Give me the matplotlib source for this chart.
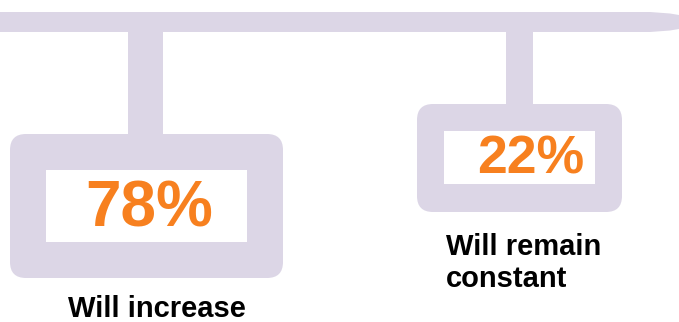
import matplotlib
matplotlib.use("Agg")
import matplotlib.pyplot as plt
from matplotlib.patches import FancyBboxPatch, Rectangle, Polygon

# Survey outcome shares
categories = ["Will increase", "Will remain\nconstant"]
shares = [78, 22]

LAVENDER = "#dcd6e6"
ORANGE = "#f7801f"

# layout in pixel units (x right, y down)
# (box_x, box_y, box_w, box_h, stem_x0, stem_x1, inner_x, inner_y, inner_w, inner_h, font_size)
BOXES = [
    (10, 134, 273, 144, 128, 163, 46, 170, 201, 72, 46),
    (417, 104, 205, 108, 506, 533, 444, 131, 151, 53, 38.5),
]
# label anchors: (x, y, ha)
LABELS = [(157, 309, "center"), (446, 263, "left")]
# where each share's number sits inside its white window
NUM_POS = [(149, 209), (531, 159)]

fig = plt.figure(figsize=(6.79, 3.22), dpi=100)
ax = fig.add_axes([0, 0, 1, 1])
ax.set_xlim(0, 679)
ax.set_ylim(322, 0)
ax.set_axis_off()

# top rail with a tapered right end
rail = Polygon(
    [(0, 12), (650, 12), (670, 13.5), (679, 15), (679, 29), (670, 30.5),
     (650, 32), (0, 32)],
    closed=True, facecolor=LAVENDER, edgecolor="none",
)
ax.add_patch(rail)

for i, (bx, by, bw, bh, sx0, sx1, ix, iy, iw, ih, fs) in enumerate(BOXES):
    # stem from the rail down to the box
    ax.add_patch(Rectangle((sx0, 30), sx1 - sx0, by - 30 + 2,
                           facecolor=LAVENDER, edgecolor="none"))
    r = 16
    ax.add_patch(FancyBboxPatch((bx + r, by + r), bw - 2 * r, bh - 2 * r,
                                boxstyle=f"round,pad={r},rounding_size={r}",
                                facecolor=LAVENDER, edgecolor="none",
                                mutation_aspect=1))
    ax.add_patch(Rectangle((ix, iy), iw, ih, facecolor="white", edgecolor="none"))
    nx, ny = NUM_POS[i]
    ax.text(nx, ny, f"{shares[i]}%", color=ORANGE, fontsize=fs,
            fontweight="bold", family="Liberation Sans",
            ha="center", va="center")
    lx, ly, ha = LABELS[i]
    ax.text(lx, ly, categories[i], color="black", fontsize=21,
            fontweight="bold", family="Liberation Sans",
            ha=ha, va="center", linespacing=1.15)

fig.savefig("out.png", dpi=100, facecolor="white")
